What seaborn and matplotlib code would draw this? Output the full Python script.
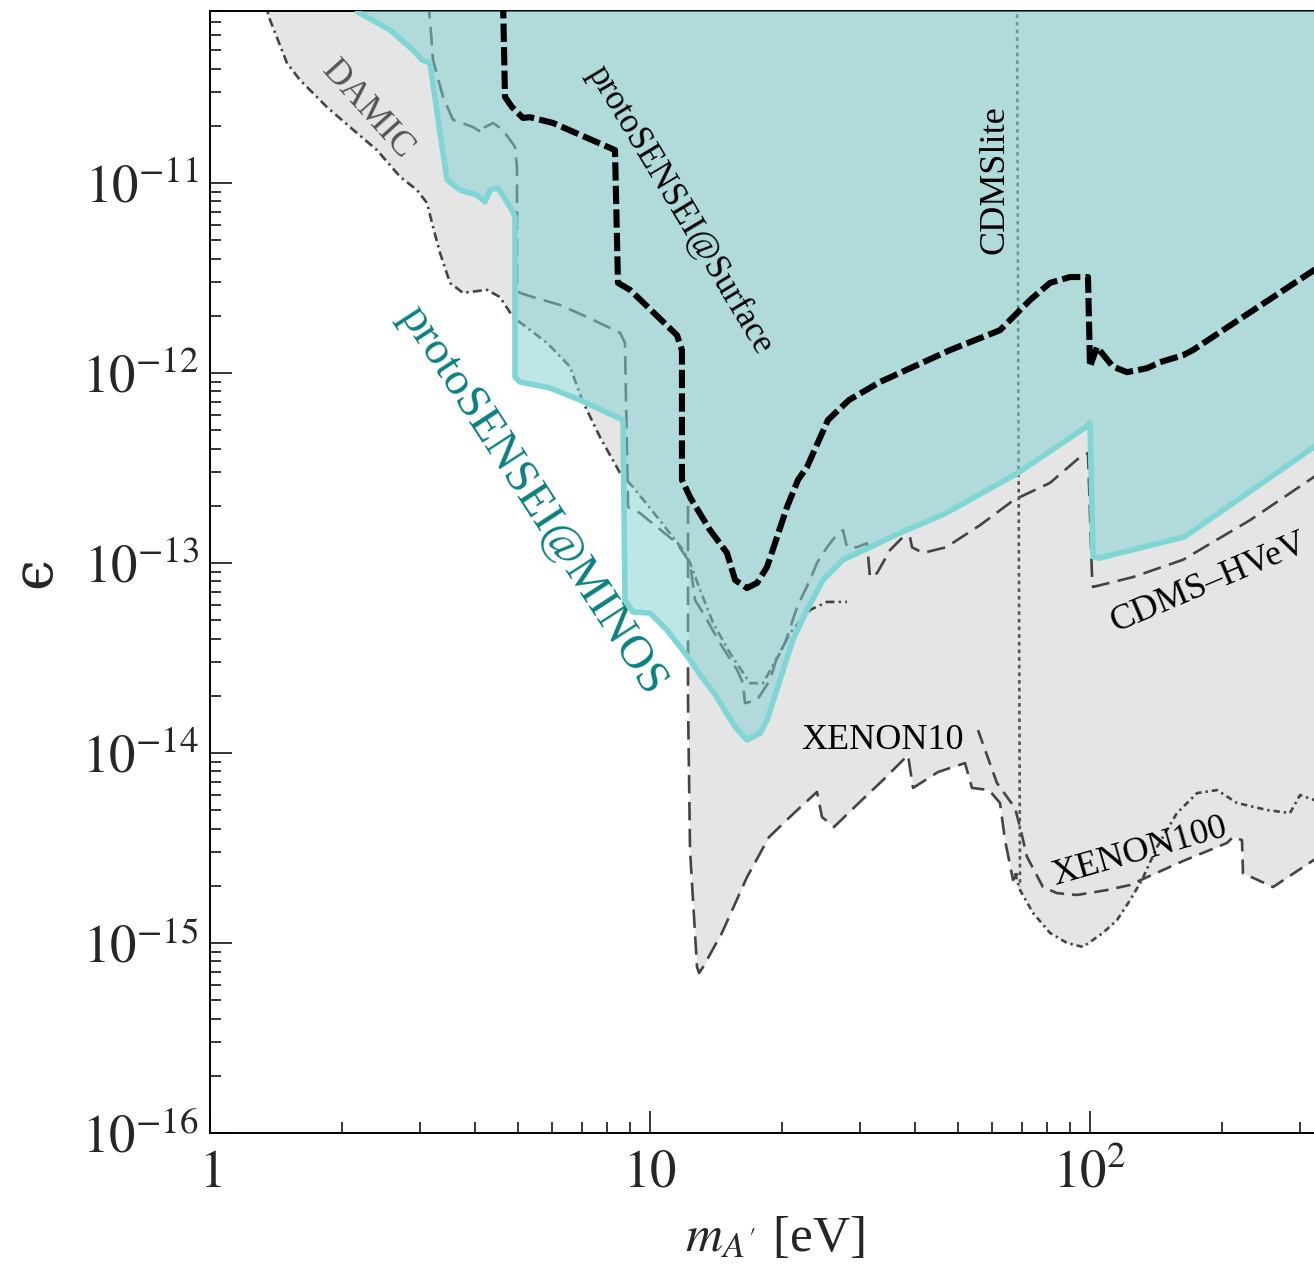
import numpy as np
import matplotlib
matplotlib.use("Agg")
import matplotlib.pyplot as plt
import seaborn as sns
from matplotlib.ticker import FixedLocator, FixedFormatter, LogLocator, NullFormatter

# lower edge of the combined excluded region (grey)
grey_m = [1.33, 1.347, 1.369, 1.496, 1.602, 1.844, 2.080, 2.396, 2.703, 2.954, 3.113, 3.213, 3.333, 3.512,
          3.758, 4.261, 4.561, 4.882, 5.834, 6.579, 7.007, 7.697, 8.546, 9.149, 10.37, 11.89, 12.20, 12.20,
          12.33, 12.79, 12.93, 13.20, 14.57, 16.61, 18.64, 21.25, 23.96, 24.60, 26.19, 30.32, 33.86, 38.58,
          39.61, 45.14, 51.99, 53.93, 58.94, 62.43, 64.10, 66.83, 69.33, 74.22, 81.11, 88.67, 96.41, 107.0,
          115.2, 123.3, 131.3, 134.8, 162.7, 204.8, 211.3, 221.5, 222.7, 260.6, 323.0, 370.0]
grey_eps = [1.0e-10, 8.14e-11, 7.21e-11, 4.28e-11, 3.48e-11, 2.51e-11, 1.97e-11, 1.49e-11, 1.08e-11, 9.18e-12,
            7.85e-12, 5.86e-12, 4.28e-12, 2.98e-12, 2.64e-12, 2.74e-12, 2.51e-12, 1.97e-12, 1.44e-12, 1.08e-12,
            7.21e-13, 4.60e-13, 2.98e-13, 2.51e-13, 1.75e-13, 1.17e-13, 1.02e-13, 1.90e-14, 3.08e-15, 7.48e-16,
            6.95e-16, 7.48e-16, 1.13e-15, 2.22e-15, 3.61e-15, 4.83e-15, 6.24e-15, 4.60e-15, 4.08e-15, 5.66e-15,
            7.21e-15, 9.75e-15, 6.55e-15, 7.94e-15, 8.85e-15, 6.55e-15, 6.38e-15, 5.46e-15, 3.48e-15, 2.15e-15,
            1.90e-15, 1.44e-15, 1.13e-15, 1.0e-15, 9.53e-16, 1.13e-15, 1.32e-15, 1.68e-15, 2.15e-15, 2.22e-15,
            2.74e-15, 3.36e-15, 3.61e-15, 3.48e-15, 2.33e-15, 1.97e-15, 2.74e-15, 3.1e-15]

# DAMIC
damic_m = [1.33, 1.347, 1.369, 1.496, 1.602, 1.844, 2.080, 2.396, 2.703, 2.954, 3.113, 3.213, 3.333, 3.512,
           3.758, 4.261, 4.561, 4.882, 5.834, 6.579, 7.007, 7.697, 8.546, 9.149, 10.37, 11.89, 12.33, 13.0,
           13.91, 15.20, 16.88, 18.06, 19.74, 20.81, 23.10, 25.25, 28.04]
damic_eps = [1.0e-10, 8.14e-11, 7.21e-11, 4.28e-11, 3.48e-11, 2.51e-11, 1.97e-11, 1.49e-11, 1.08e-11, 9.18e-12,
             7.85e-12, 5.86e-12, 4.28e-12, 2.98e-12, 2.64e-12, 2.74e-12, 2.51e-12, 1.97e-12, 1.44e-12, 1.08e-12,
             7.21e-13, 4.60e-13, 2.98e-13, 2.51e-13, 1.75e-13, 1.17e-13, 1.0e-13, 7.21e-14, 4.83e-14, 3.36e-14,
             2.33e-14, 2.33e-14, 3.36e-14, 4.28e-14, 5.66e-14, 6.24e-14, 6.24e-14]

# CDMS-HVeV
hvev_m = [3.13, 3.162, 3.213, 3.385, 3.567, 3.960, 4.173, 4.217, 4.398, 4.634, 4.933, 4.985, 4.985, 5.064,
          5.42, 6.245, 7.19, 8.546, 8.773, 8.913, 9.490, 11.52, 12.33, 12.66, 13.20, 14.42, 15.77, 16.27,
          16.44, 17.51, 18.74, 19.44, 20.27, 21.59, 23.10, 23.96, 25.25, 26.33, 27.46, 28.04, 29.54, 31.12,
          31.62, 32.81, 35.12, 37.58, 38.99, 39.40, 41.73, 47.07, 56.23, 67.19, 81.11, 94.9, 98.96, 101.0,
          101.6, 125.2, 162.7, 231.0, 323.0, 370.0]
hvev_eps = [9.18e-11, 7.21e-11, 4.44e-11, 2.84e-11, 2.15e-11, 1.97e-11, 1.83e-11, 1.97e-11, 2.07e-11, 1.90e-11,
            1.55e-11, 1.21e-11, 2.74e-12, 2.64e-12, 2.51e-12, 2.28e-12, 1.97e-12, 1.63e-12, 1.44e-12, 1.97e-13,
            1.83e-13, 1.27e-13, 1.0e-13, 6.38e-14, 5.46e-14, 3.79e-14, 2.74e-14, 2.33e-14, 1.83e-14, 1.90e-14,
            2.42e-14, 3.20e-14, 3.79e-14, 5.86e-14, 8.14e-14, 1.0e-13, 1.21e-13, 1.37e-13, 1.49e-13, 1.21e-13,
            1.21e-13, 1.27e-13, 8.43e-14, 8.85e-14, 1.17e-13, 1.37e-13, 1.37e-13, 1.21e-13, 1.13e-13, 1.21e-13,
            1.58e-13, 2.15e-13, 2.64e-13, 3.61e-13, 3.79e-13, 8.85e-14, 7.48e-14, 8.43e-14, 1.04e-13, 1.68e-13,
            2.84e-13, 3.40e-13]

# XENON10
x10_m = [12.20, 12.20, 12.33, 12.79, 12.93, 13.20, 14.57, 16.61, 18.64, 21.25, 23.96, 24.60, 26.19, 30.32,
         33.86, 38.58, 39.61, 45.14, 51.99, 53.93, 58.94, 62.43, 64.10, 66.83, 68.61]
x10_eps = [2.0e-13, 1.90e-14, 3.08e-15, 7.48e-16, 6.95e-16, 7.48e-16, 1.13e-15, 2.22e-15, 3.61e-15, 4.83e-15,
           6.24e-15, 4.60e-15, 4.08e-15, 5.66e-15, 7.21e-15, 9.75e-15, 6.55e-15, 7.94e-15, 8.85e-15, 6.55e-15,
           6.38e-15, 5.46e-15, 3.48e-15, 2.15e-15, 2.33e-15]

# XENON100 (two curves)
x100_m = [55.66, 57.72, 61.46, 67.53, 69.33, 71.92, 78.18, 84.14, 93.43, 109.3, 123.3, 134.8, 162.7, 204.8,
          211.3, 221.5, 222.7, 260.6, 323.0, 370.0]
x100_eps = [1.32e-14, 1.04e-14, 6.95e-15, 5.14e-15, 4.08e-15, 2.84e-15, 1.97e-15, 1.83e-15, 1.79e-15, 1.90e-15,
            2.02e-15, 2.22e-15, 2.70e-15, 3.36e-15, 3.61e-15, 3.48e-15, 2.33e-15, 1.97e-15, 2.74e-15, 3.1e-15]
x100b_m = [67.53, 69.33, 74.22, 81.11, 88.67, 96.41, 107.0, 115.2, 123.3, 131.3, 142.0, 157.6, 175.1, 194.4,
           215.8, 252.6, 284.8, 300.2, 323.0, 370.0]
x100b_eps = [2.33e-15, 1.90e-15, 1.44e-15, 1.13e-15, 1.0e-15, 9.53e-16, 1.13e-15, 1.32e-15, 1.68e-15, 2.15e-15,
             3.20e-15, 4.83e-15, 6.15e-15, 6.38e-15, 5.46e-15, 5.01e-15, 4.83e-15, 6.01e-15, 5.66e-15, 5.66e-15]

# CDMSlite
cdmslite_m = [68.25, 69.33]
cdmslite_eps = [1.0e-10, 1.97e-15]

# protoSENSEI@Surface
surf_m = [4.634, 4.682, 4.857, 5.144, 5.336, 6.020, 8.111, 8.326, 8.457, 9.006, 11.52, 11.82, 11.82, 12.33,
          13.69, 14.96, 15.61, 16.61, 17.51, 18.45, 19.44, 20.48, 21.70, 22.74, 25.38, 28.33, 33.33, 48.07,
          62.43, 73.06, 81.11, 90.07, 98.96, 100.0, 103.7, 112.8, 121.4, 134.8, 144.3, 162.7, 171.4, 190.3,
          323.0, 370.0]
surf_eps = [9.18e-11, 2.84e-11, 2.51e-11, 2.20e-11, 2.22e-11, 2.07e-11, 1.53e-11, 1.49e-11, 2.98e-12, 2.74e-12,
            1.58e-12, 1.32e-12, 2.74e-13, 2.22e-13, 1.49e-13, 1.13e-13, 8.14e-14, 7.38e-14, 7.85e-14, 9.53e-14,
            1.37e-13, 1.97e-13, 2.74e-13, 3.20e-13, 5.66e-13, 7.21e-13, 8.97e-13, 1.32e-12, 1.68e-12, 2.42e-12,
            2.98e-12, 3.20e-12, 3.20e-12, 1.08e-12, 1.37e-12, 1.08e-12, 1.01e-12, 1.06e-12, 1.14e-12, 1.24e-12,
            1.32e-12, 1.55e-12, 3.48e-12, 4.18e-12]

# protoSENSEI@MINOS
minos_m = [2.136, 2.170, 2.566, 2.893, 3.033, 3.162, 3.333, 3.457, 3.700, 4.044, 4.217, 4.329, 4.514, 4.857,
           4.933, 4.933, 5.064, 5.926, 6.934, 8.682, 8.773, 9.149, 10.0, 10.93, 12.20, 13.0, 13.98, 15.61,
           16.61, 17.78, 18.45, 19.74, 21.13, 22.74, 24.73, 27.46, 31.62, 37.0, 43.29, 47.07, 68.61, 97.93,
           100.0, 101.6, 104.8, 163.5, 170.5, 323.0, 370.0]
minos_eps = [9.18e-11, 7.94e-11, 6.38e-11, 5.01e-11, 4.44e-11, 4.28e-11, 1.83e-11, 1.04e-11, 9.18e-12, 8.65e-12,
             7.94e-12, 9.18e-12, 9.42e-12, 7.21e-12, 6.62e-12, 9.53e-13, 8.97e-13, 8.34e-13, 7.21e-13, 5.66e-13,
             6.38e-14, 5.52e-14, 5.46e-14, 4.44e-14, 3.20e-14, 2.58e-14, 2.07e-14, 1.37e-14, 1.17e-14, 1.27e-14,
             1.49e-14, 2.42e-14, 3.94e-14, 5.66e-14, 8.14e-14, 1.04e-13, 1.21e-13, 1.44e-13, 1.68e-13, 1.83e-13,
             2.98e-13, 5.20e-13, 5.46e-13, 1.08e-13, 1.06e-13, 1.37e-13, 1.46e-13, 4.08e-13, 5.01e-13]

x_ticks = [1, 10, 100]
x_labels = [r"$1$", r"$10$", r"$10^2$"]
y_ticks = [1e-16, 1e-15, 1e-14, 1e-13, 1e-12, 1e-11]
y_labels = [r"$10^{-16}$", r"$10^{-15}$", r"$10^{-14}$", r"$10^{-13}$", r"$10^{-12}$", r"$10^{-11}$"]

sns.set_style("ticks")
plt.rcParams["font.family"] = ["Liberation Serif", "DejaVu Serif"]
plt.rcParams["mathtext.fontset"] = "stix"

fig = plt.figure(figsize=(13.14, 12.78), dpi=100)
ax = fig.add_axes([210 / 1314, 145 / 1278, 1130 / 1314, 1122 / 1278])
ax.set_xscale("log")
ax.set_yscale("log")
ax.set_xlim(1, 10 ** (1130 / 440))
ax.set_ylim(1e-16, 10 ** (-16 + 1122 / 190))

GREY = "#444444"


def curve(m, eps, color, lw, dashes, z):
    sns.lineplot(x=m, y=eps, ax=ax, color=color, lw=lw, sort=False, estimator=None, zorder=z)
    line = ax.lines[-1]
    if dashes is not None:
        line.set_dashes(dashes)
    line.set_dash_capstyle("butt")
    return line


ax.fill_between(grey_m, grey_eps, 1e-10, color="#e5e5e5", lw=0, zorder=1)

curve(damic_m, damic_eps, GREY, 1.9, (3.4, 1.6, 0.9, 1.6), 2)
curve(hvev_m, hvev_eps, GREY, 1.9, (7.0, 3.2), 2)
curve(x10_m, x10_eps, GREY, 1.9, (7.0, 3.2), 2)
curve(x100_m, x100_eps, GREY, 1.9, (5.5, 3.0), 2)
curve(x100b_m, x100b_eps, GREY, 1.9, (2.4, 1.5, 0.9, 1.5), 2)
curve(cdmslite_m, cdmslite_eps, "#555555", 1.9, (1.4, 1.5), 2)

ax.fill_between(minos_m, minos_eps, 1e-10, color="#82d2d0", alpha=0.52, lw=0, zorder=3)
curve(minos_m, minos_eps, "#80d6d4", 4.0, None, 4)
curve(surf_m, surf_eps, "black", 4.4, (3.0, 0.85), 5)

txt = dict(ha="center", va="center", rotation_mode="anchor", zorder=10)
ax.text(2.286, 2.42e-11, "DAMIC", rotation=-48, color="#555555", fontsize=26, **txt)
ax.text(11.7, 7.21e-12, "protoSENSEI@Surface", rotation=-59, color="black", fontsize=25, **txt)
ax.text(5.40, 2.15e-13, "protoSENSEI@MINOS", rotation=-57, color="#0b8080", fontsize=34, **txt)
ax.text(60.8, 1.04e-11, "CDMSlite", rotation=90, color="black", fontsize=26, **txt)
ax.text(33.7, 1.17e-14, "XENON10", rotation=0, color="black", fontsize=26, **txt)
ax.text(129.9, 3.01e-15, "XENON100", rotation=16, color="black", fontsize=26, **txt)
ax.text(114.0, 4.33e-14, "CDMS\u2013HVeV", rotation=23, color="black", fontsize=26,
        ha="left", va="baseline", rotation_mode="anchor", zorder=10)

ax.xaxis.set_major_locator(FixedLocator(x_ticks))
ax.xaxis.set_major_formatter(FixedFormatter(x_labels))
ax.xaxis.set_minor_locator(LogLocator(base=10, subs=np.arange(2, 10)))
ax.xaxis.set_minor_formatter(NullFormatter())
ax.yaxis.set_major_locator(FixedLocator(y_ticks))
ax.yaxis.set_major_formatter(FixedFormatter(y_labels))
ax.yaxis.set_minor_locator(LogLocator(base=10, subs=np.arange(2, 10), numticks=20))
ax.yaxis.set_minor_formatter(NullFormatter())

ax.tick_params(which="both", direction="in", top=True, right=False, color="black", width=1.1)
ax.tick_params(which="major", length=16)
ax.tick_params(which="minor", length=8)
ax.tick_params(axis="x", which="major", labelsize=38, pad=12)
ax.tick_params(axis="y", which="major", labelsize=38, pad=8)

for side in ["left", "bottom", "top"]:
    ax.spines[side].set_color("black")
    ax.spines[side].set_linewidth(1.4)
ax.spines["right"].set_visible(False)

ax.set_xlabel(r"$m_{A^{\prime}}$ [eV]", fontsize=37, labelpad=12)
ax.set_ylabel("\u03f5", fontsize=40, labelpad=14, family=["DejaVu Serif"])

fig.savefig("out.png", dpi=100)
